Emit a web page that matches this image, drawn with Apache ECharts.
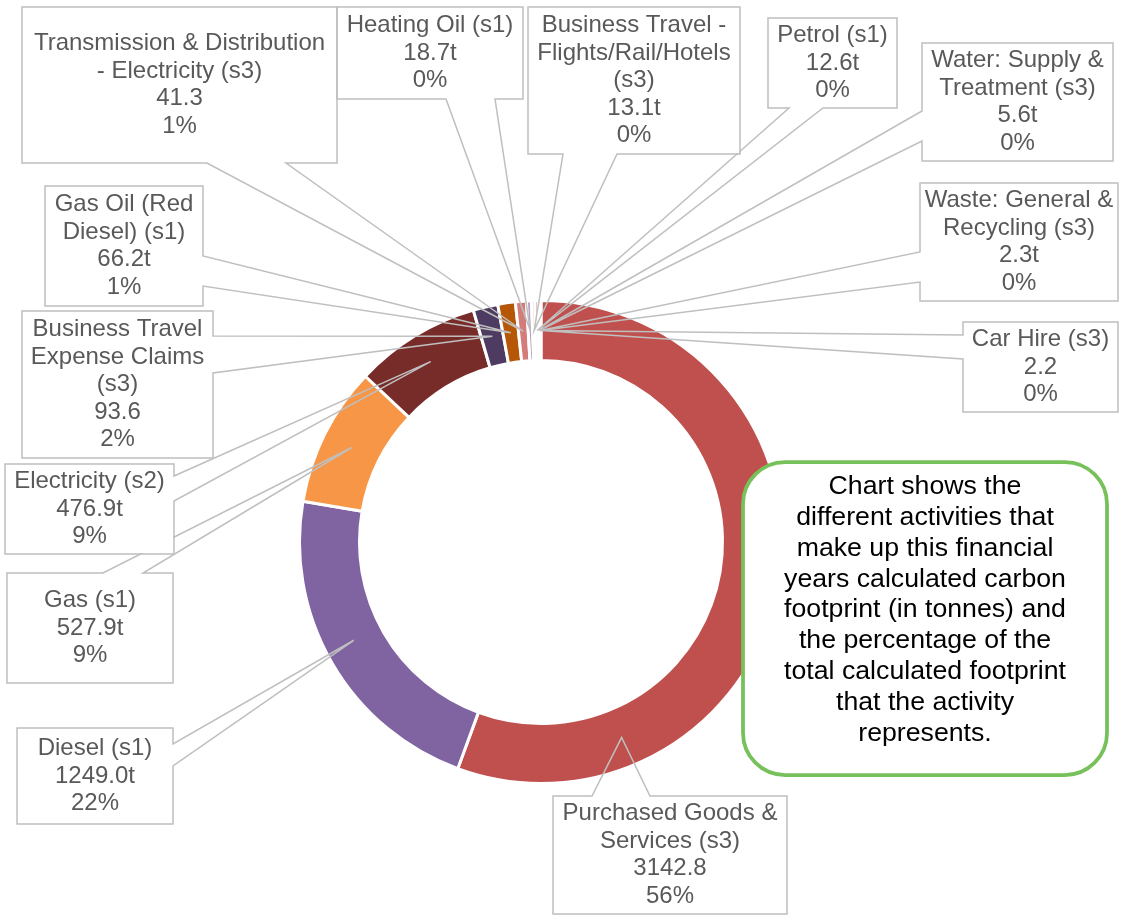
<!DOCTYPE html>
<html>
<head>
<meta charset="utf-8">
<script src="https://cdn.jsdelivr.net/npm/echarts@6/dist/echarts.min.js"></script>
<style>
html,body{margin:0;padding:0;background:#fff;}
#chart{width:1126px;height:916px;}
</style>
</head>
<body>
<div id="chart"></div>
<script>
// ---- data ----
const categories = [
  'Purchased Goods &\nServices (s3)',
  'Diesel (s1)',
  'Gas (s1)',
  'Electricity (s2)',
  'Business Travel\nExpense Claims\n(s3)',
  'Gas Oil (Red\nDiesel) (s1)',
  'Transmission & Distribution\n- Electricity (s3)',
  'Heating Oil (s1)',
  'Business Travel -\nFlights/Rail/Hotels\n(s3)',
  'Petrol (s1)',
  'Water: Supply &\nTreatment (s3)',
  'Waste: General &\nRecycling (s3)',
  'Car Hire (s3)'
];
const tonnes = [3142.8, 1249.0, 527.9, 476.9, 93.6, 66.2, 41.3, 18.7, 13.1, 12.6, 5.6, 2.3, 2.2];
const unitSuffix = ['', 't', 't', 't', '', 't', '', 't', 't', 't', 't', 't', ''];
const noteText = 'Chart shows the\ndifferent activities that\nmake up this financial\nyears calculated carbon\nfootprint (in tonnes) and\nthe percentage of the\ntotal calculated footprint\nthat the activity\nrepresents.';

// ---- styles / layout ----
const sliceColors = ['#C0504D', '#8064A2', '#F79646', '#772C2A', '#4D3B62', '#B65708',
  '#D37C7A', '#B3A2C7', '#F9B27A', '#A5403D', '#9A86B8', '#E0843C', '#C98A88'];
// callout boxes: [x0, y0, x1, y1], side carrying the pointer, pointer base from a to b
const callouts = [
  { box: [553, 796, 787, 914], side: 'top', a: 592, b: 650 },
  { box: [17, 728, 173, 824], side: 'right', a: 744, b: 766 },
  { box: [7, 573, 173, 683], side: 'top', a: 103, b: 143 },
  { box: [5, 464, 174, 554], side: 'right', a: 476, b: 501 },
  { box: [22, 311, 213, 458], side: 'right', a: 336, b: 373 },
  { box: [45, 186, 203, 306], side: 'right', a: 256, b: 286 },
  { box: [22, 7, 337, 163], side: 'bottom', a: 207, b: 286 },
  { box: [337, 7, 523, 99], side: 'bottom', a: 446, b: 495 },
  { box: [528, 7, 740, 154], side: 'bottom', a: 563, b: 617 },
  { box: [768, 18, 897, 108], side: 'bottom', a: 789, b: 823 },
  { box: [922, 43, 1113, 161], side: 'left', a: 111, b: 141 },
  { box: [920, 183, 1118, 301], side: 'left', a: 252, b: 282 },
  { box: [963, 322, 1118, 412], side: 'left', a: 335, b: 359 }
];
const LABEL_FONT = 24, LABEL_LH = 27.5;
const CENTER = [541, 542], RADIUS = [181.5, 241.5];

const chart = echarts.init(document.getElementById('chart'), null, { renderer: 'canvas' });

function tipPoint(i, bx, by) {
  const lay = chart.getModel().getSeriesByIndex(1).getData().getItemLayout(i);
  const cx = lay.cx, cy = lay.cy, rMid = (lay.r + lay.r0) / 2;
  const lo = Math.min(lay.startAngle, lay.endAngle), hi = Math.max(lay.startAngle, lay.endAngle);
  let phi = Math.atan2(by - cy, bx - cx);
  while (phi < lo) phi += 2 * Math.PI;
  while (phi > lo + 2 * Math.PI) phi -= 2 * Math.PI;
  const ang = phi <= hi ? phi : (lo + hi) / 2;
  return [cx + rMid * Math.cos(ang), cy + rMid * Math.sin(ang)];
}

function outline(c, tip) {
  const [x0, y0, x1, y1] = c.box, a = c.a, b = c.b;
  let pts;
  if (c.side === 'top') pts = [[x0, y0], [a, y0], tip, [b, y0], [x1, y0], [x1, y1], [x0, y1], [x0, y0]];
  else if (c.side === 'right') pts = [[x0, y0], [x1, y0], [x1, a], tip, [x1, b], [x1, y1], [x0, y1], [x0, y0]];
  else if (c.side === 'bottom') pts = [[x0, y0], [x1, y0], [x1, y1], [b, y1], tip, [a, y1], [x0, y1], [x0, y0]];
  else pts = [[x0, y0], [x1, y0], [x1, y1], [x0, y1], [x0, b], tip, [x0, a], [x0, y0]];
  pts.push(pts[1]);
  return pts;
}

const sliceData = tonnes.map((v, i) => ({
  value: v, name: categories[i], itemStyle: { color: sliceColors[i] }
}));

const labelData = tonnes.map((v, i) => {
  const c = callouts[i];
  const w = c.box[2] - c.box[0], h = c.box[3] - c.box[1];
  const nLines = categories[i].split('\n').length + 2;
  const pv = Math.max(0, (h - 2 - nLines * LABEL_LH) / 2);
  return {
    value: v,
    name: categories[i],
    label: { width: w - 2, padding: [pv, 0, pv, 0] }
  };
});

const option = {
  backgroundColor: '#ffffff',
  animation: false,
  series: [
    {
      type: 'pie',
      z: 2,
      center: CENTER,
      radius: RADIUS,
      startAngle: 90,
      clockwise: true,
      silent: true,
      emphasis: { disabled: true },
      itemStyle: { borderColor: '#ffffff', borderWidth: 3 },
      label: { show: false },
      labelLine: { show: false },
      data: sliceData
    },
    {
      type: 'pie',
      z: 3,
      center: CENTER,
      radius: RADIUS,
      startAngle: 90,
      clockwise: true,
      silent: true,
      percentPrecision: 0,
      avoidLabelOverlap: false,
      emphasis: { disabled: true },
      itemStyle: { color: 'rgba(0,0,0,0)', borderWidth: 0 },
      label: {
        show: true,
        position: 'outside',
        formatter: p => p.name + '\n' + tonnes[p.dataIndex].toFixed(1) + unitSuffix[p.dataIndex] + '\n' + p.percent + '%',
        color: '#595959',
        fontFamily: '"Liberation Sans", Arial, sans-serif',
        fontSize: LABEL_FONT,
        lineHeight: LABEL_LH,
        backgroundColor: '#ffffff',
        align: 'center'
      },
      labelLine: {
        show: true,
        smooth: false,
        lineStyle: { color: '#BFBFBF', width: 1.5 }
      },
      labelLayout: function (params) {
        const c = callouts[params.dataIndex];
        const bx = (c.box[0] + c.box[2]) / 2, by = (c.box[1] + c.box[3]) / 2;
        const tip = tipPoint(params.dataIndex, bx, by);
        return {
          x: bx, y: by, align: 'center', verticalAlign: 'middle',
          labelLinePoints: outline(c, tip)
        };
      },
      data: labelData
    }
  ],
  graphic: [
    {
      type: 'rect', z: 100,
      shape: { x: 743, y: 462, width: 364, height: 313, r: 42 },
      style: { fill: '#ffffff', stroke: '#77C15B', lineWidth: 3.75 }
    },
    {
      type: 'text', z: 101,
      style: {
        x: 925, y: 610, text: noteText, align: 'center', verticalAlign: 'middle',
        fontSize: 26.7, fontFamily: '"Liberation Sans", Arial, sans-serif',
        lineHeight: 30.8, fill: '#000000'
      }
    }
  ]
};
chart.setOption(option);
</script>
</body>
</html>
